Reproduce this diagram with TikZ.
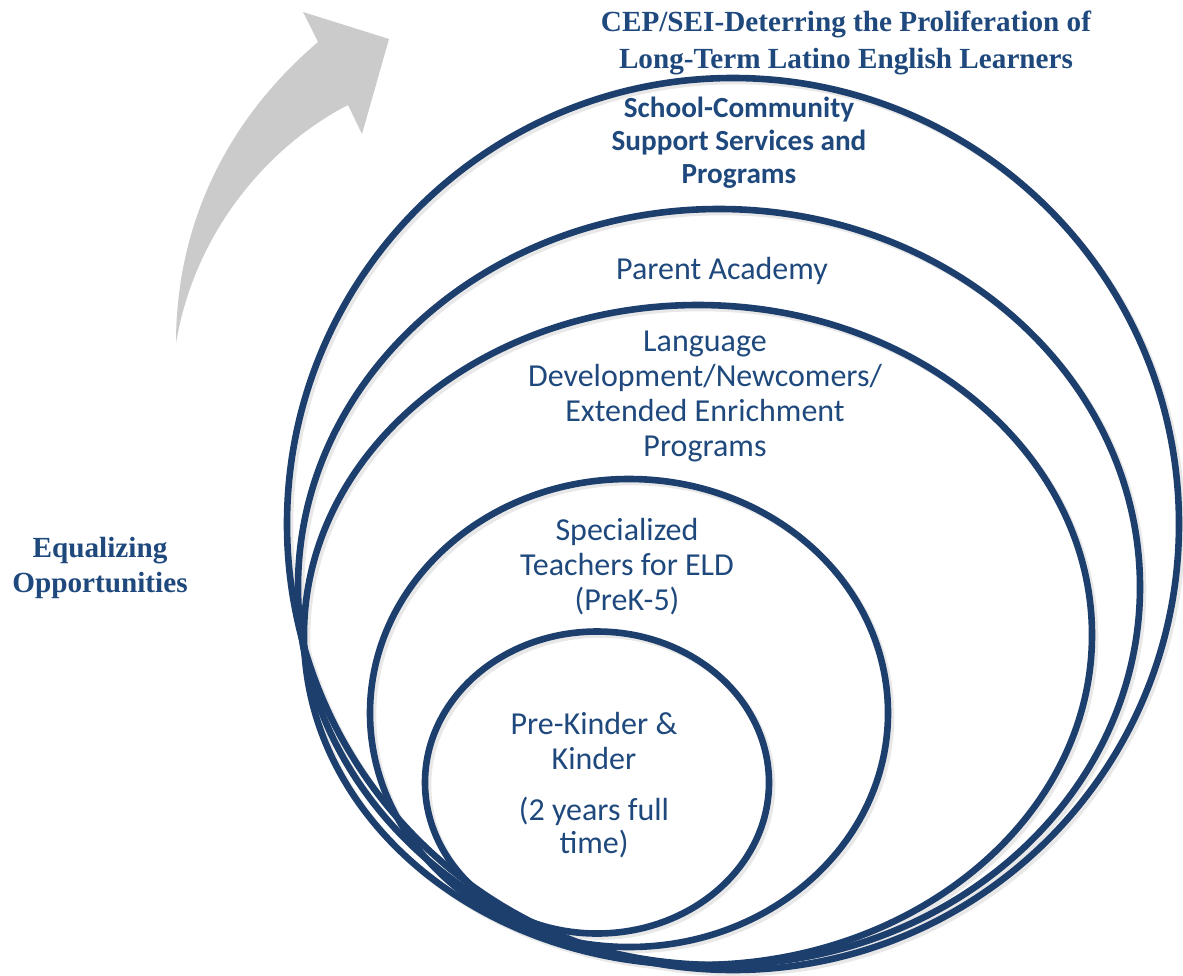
\documentclass[tikz,border=0pt]{standalone}
\usepackage{fontspec}
\setmainfont{Carlito}
\newfontfamily\titlefont{Liberation Serif}
\definecolor{ringblue}{RGB}{29,63,110}
\definecolor{textblue}{RGB}{31,73,125}
\definecolor{arrowgray}{RGB}{203,203,203}
\begin{document}
\begin{tikzpicture}[x=0.5pt,y=-0.5pt,
  ring/.style={draw=ringblue,line width=3.3pt},
  ringshadow/.style={draw=black!9,line width=3.3pt},
  lbl/.style={text=textblue,align=center,inner sep=0pt,font=\fontsize{16}{17.5}\selectfont},
  boldlbl/.style={text=textblue,align=center,inner sep=0pt,font=\bfseries\fontsize{14.6}{16.5}\selectfont},
  seriflbl/.style={text=textblue,align=center,inner sep=0pt,font=\titlefont\bfseries\fontsize{14.6}{18.5}\selectfont}]
\useasboundingbox (0,0) rectangle (1183,975);
% curved arrow
\fill[arrowgray] (176,343) .. controls (176,240) and (215,130) .. (318,42) -- (303,12) -- (389,39) -- (362,134) -- (348,105) .. controls (270,145) and (195,230) .. (176,343) -- cycle;
% shadows
\draw[ringshadow] (736,527) ellipse [x radius=223pt, y radius=223pt];
\draw[ringshadow] (722,590) ellipse [x radius=210.5pt, y radius=189pt];
\draw[ringshadow] (701,638) ellipse [x radius=197pt, y radius=165pt];
\draw[ringshadow] (632,716) ellipse [x radius=129.5pt, y radius=117pt];
\draw[ringshadow] (600,785.5) ellipse [x radius=86pt, y radius=75.5pt];
% rings
\draw[ring] (733,524) ellipse [x radius=223pt, y radius=223pt];
\draw[ring] (719,587) ellipse [x radius=210.5pt, y radius=189pt];
\draw[ring] (698,635) ellipse [x radius=197pt, y radius=165pt];
\draw[ring] (629,713) ellipse [x radius=129.5pt, y radius=117pt];
\draw[ring] (597,782.5) ellipse [x radius=86pt, y radius=75.5pt];
% texts
\node[seriflbl] (title) at (846,43) {CEP/SEI-Deterring the Proliferation of\\Long-Term Latino English Learners};
\node[boldlbl] (school) at (739,143) {School-Community\\Support Services and\\Programs};
\node[lbl] (parent) at (722,271) {Parent Academy};
\node[lbl] (lang) at (705,396) {Language\\Development/Newcomers/\\Extended Enrichment\\Programs};
\node[lbl] (teach) at (627,567) {Specialized\\Teachers for ELD\\(PreK-5)};
\node[lbl] (prek) at (594,741) {Pre-Kinder \&\\Kinder};
\node[lbl,font=\fontsize{16}{16.5}\selectfont] (years) at (594,828) {(2 years full\\time)};
\node[seriflbl,font=\titlefont\bfseries\fontsize{14.6}{17.5}\selectfont] (equal) at (100,568) {Equalizing\\Opportunities};
\end{tikzpicture}
\end{document}
